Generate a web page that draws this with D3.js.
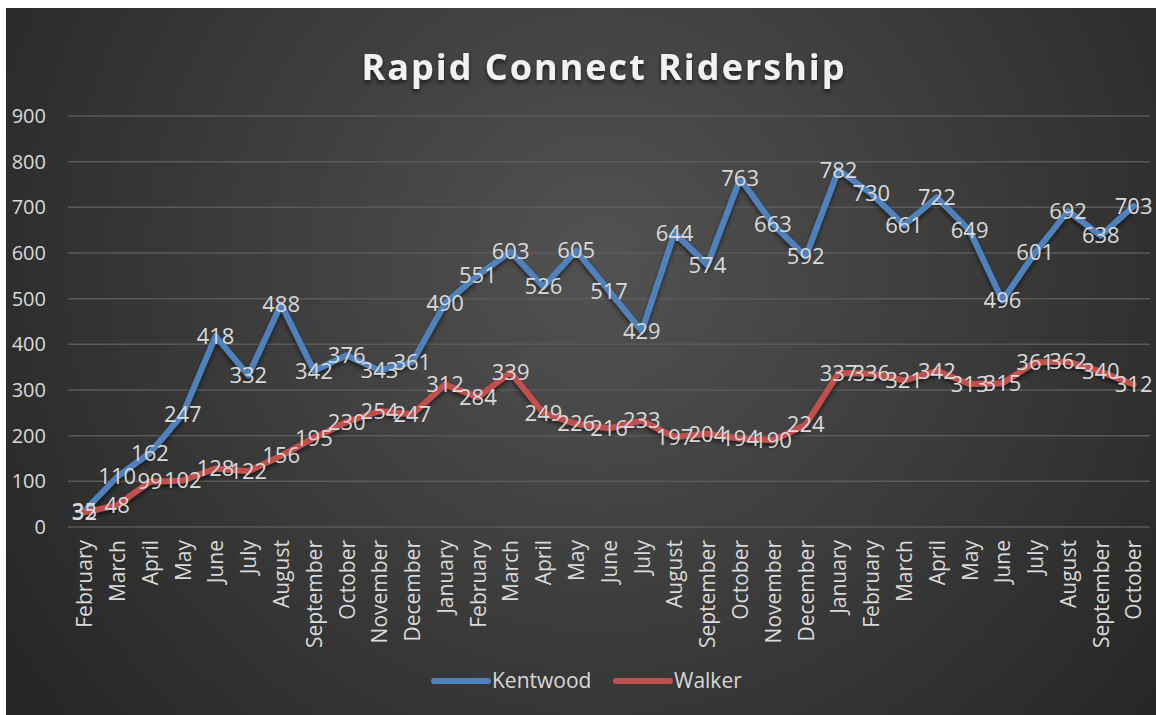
<!DOCTYPE html>
<html>
<head>
<meta charset="utf-8">
<script src="https://cdn.jsdelivr.net/npm/d3@7"></script>
<style>
	html, body { margin: 0; padding: 0; background: #fff; }
	svg { display: block; font-family: "Open Sans", sans-serif; }
</style>
</head>
<body>
<script>
const months = [
	"February", "March", "April", "May", "June", "July", "August", "September",
	"October", "November", "December", "January", "February", "March", "April",
	"May", "June", "July", "August", "September", "October", "November",
	"December", "January", "February", "March", "April", "May", "June", "July",
	"August", "September", "October"
];
const kentwood = [35, 110, 162, 247, 418, 332, 488, 342, 376, 343, 361, 490, 551, 603, 526, 605, 517, 429, 644, 574, 763, 663, 592, 782, 730, 661, 722, 649, 496, 601, 692, 638, 703];
const walker = [32, 48, 99, 102, 128, 122, 156, 195, 230, 254, 247, 312, 284, 339, 249, 226, 216, 233, 197, 204, 194, 190, 224, 337, 336, 321, 342, 313, 315, 361, 362, 340, 312];
const yTicks = [0, 100, 200, 300, 400, 500, 600, 700, 800, 900];

const config = {
	width: 1156,
	height: 715,
	plotLeft: 68,
	plotRight: 1150,
	plotTop: 116,
	plotBottom: 527
};

const series = [
	{ name: "Kentwood", values: kentwood, color: "#4F81BD" },
	{ name: "Walker", values: walker, color: "#C0504D" }
];

const svg = d3.select("body").append("svg")
	.attr("width", config.width)
	.attr("height", config.height);

const defs = svg.append("defs");
const grad = defs.append("radialGradient")
	.attr("id", "bg")
	.attr("gradientUnits", "userSpaceOnUse")
	.attr("cx", 600).attr("cy", 260).attr("r", 720);
grad.append("stop").attr("offset", "0%").attr("stop-color", "#525252");
grad.append("stop").attr("offset", "100%").attr("stop-color", "#262626");

const shadow = defs.append("filter").attr("id", "shadow")
	.attr("x", "-10%").attr("y", "-10%").attr("width", "120%").attr("height", "130%");
shadow.append("feDropShadow")
	.attr("dx", 0).attr("dy", 3).attr("stdDeviation", 2)
	.attr("flood-color", "#000").attr("flood-opacity", 0.55);

svg.append("rect")
	.attr("x", 6).attr("y", 8)
	.attr("width", config.width - 6).attr("height", config.height - 8)
	.attr("fill", "url(#bg)");

const x = d3.scalePoint()
	.domain(d3.range(months.length))
	.range([config.plotLeft, config.plotRight])
	.padding(0.5);

const y = d3.scaleLinear()
	.domain([0, 900])
	.range([config.plotBottom, config.plotTop]);

// grid lines
svg.append("g")
	.selectAll("line")
	.data(yTicks)
	.join("line")
	.attr("x1", config.plotLeft)
	.attr("x2", config.plotRight)
	.attr("y1", d => y(d))
	.attr("y2", d => y(d))
	.attr("stroke", "#5a5a5a")
	.attr("stroke-width", 1.5);

// y axis labels
const yAxis = svg.append("g")
	.attr("transform", `translate(${config.plotLeft - 22},0)`)
	.call(d3.axisLeft(y).tickValues(yTicks).tickSize(0).tickPadding(0));
yAxis.select(".domain").remove();
yAxis.selectAll("text")
	.attr("fill", "#d9d9d9")
	.attr("font-size", 20)
	.attr("font-family", "Open Sans, sans-serif");

// x axis labels
const xAxis = svg.append("g")
	.attr("transform", `translate(0,${config.plotBottom})`)
	.call(d3.axisBottom(x).tickFormat(i => months[i]).tickSize(0).tickPadding(0));
xAxis.select(".domain").remove();
xAxis.selectAll("text")
	.attr("fill", "#d9d9d9")
	.attr("font-size", 21)
	.attr("font-family", "Open Sans, sans-serif")
	.attr("text-anchor", "end")
	.attr("transform", "rotate(-90)")
	.attr("x", -13)
	.attr("y", 0)
	.attr("dy", "0.35em");

// lines
const line = d3.line()
	.x((d, i) => x(i))
	.y(d => y(d));

svg.append("g")
	.selectAll("path")
	.data(series)
	.join("path")
	.attr("d", s => line(s.values))
	.attr("fill", "none")
	.attr("stroke", s => s.color)
	.attr("stroke-width", 6)
	.attr("stroke-linejoin", "round")
	.attr("stroke-linecap", "round")
	.attr("filter", "url(#shadow)");

// data labels (centered on points, overlaps as in the original)
series.forEach(s => {
	svg.append("g")
		.selectAll("text")
		.data(s.values)
		.join("text")
		.attr("x", (d, i) => x(i))
		.attr("y", d => y(d))
		.attr("dy", "0.35em")
		.attr("text-anchor", "middle")
		.attr("fill", "#d9d9d9")
		.attr("font-size", 22)
		.text(d => d);
});

// title
svg.append("text")
	.attr("x", 604)
	.attr("y", 80)
	.attr("text-anchor", "middle")
	.attr("fill", "#f2f2f2")
	.attr("font-size", 36)
	.attr("font-weight", "bold")
	.attr("letter-spacing", 2)
	.attr("filter", "url(#shadow)")
	.text("Rapid Connect Ridership");

// legend
const legendItems = [
	{ s: series[0], x1: 434 },
	{ s: series[1], x1: 616 }
];
legendItems.forEach(({ s, x1 }) => {
	svg.append("line")
		.attr("x1", x1).attr("x2", x1 + 54)
		.attr("y1", 681).attr("y2", 681)
		.attr("stroke", s.color)
		.attr("stroke-width", 6)
		.attr("stroke-linecap", "round");
	svg.append("text")
		.attr("x", x1 + 58)
		.attr("y", 681)
		.attr("dy", "0.35em")
		.attr("fill", "#d9d9d9")
		.attr("font-size", 21)
		.text(s.name);
});
</script>
</body>
</html>
